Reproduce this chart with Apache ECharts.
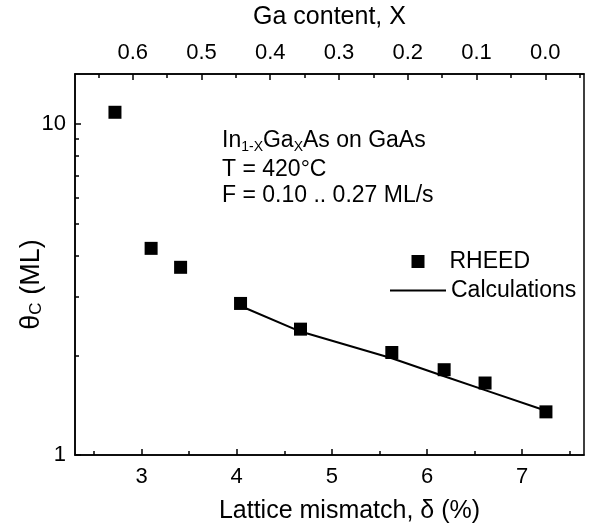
<!DOCTYPE html>
<html>
<head>
<meta charset="utf-8">
<script src="https://cdn.jsdelivr.net/npm/echarts@6/dist/echarts.min.js"></script>
<style>
  html, body { margin: 0; padding: 0; background: #fff; }
  #chart { width: 590px; height: 523px; }
</style>
</head>
<body>
<div id="chart"></div>
<script>
// RHEED critical thickness vs lattice mismatch
const mismatch = [2.72, 3.10, 3.41, 4.04, 4.67, 5.63, 6.18, 6.61, 7.25];
const thetaC   = [10.85, 4.21, 3.69, 2.87, 2.40, 2.04, 1.81, 1.65, 1.35];

// calculated critical thickness
const calcMismatch = [4.04, 4.67, 5.63, 6.18, 6.61, 7.25];
const calcTheta    = [2.82, 2.36, 1.96, 1.73, 1.57, 1.36];

// tick values
const mismatchTicks = [3, 4, 5, 6, 7];
const mismatchMinor = [2.5, 3.5, 4.5, 5.5, 6.5, 7.5];
const gaTicks = [0.6, 0.5, 0.4, 0.3, 0.2, 0.1, 0.0];
const gaMinor = [0.65, 0.55, 0.45, 0.35, 0.25, 0.15, 0.05, -0.05];
const thetaMinor = [2, 3, 4, 5, 6, 7, 8, 9];

const FONT = '"Liberation Sans", Arial, Helvetica, sans-serif';
const X_MIN = 2.3, X_MAX = 7.65;
const GA_MIN = -0.0563, GA_MAX = 0.6839;
const Y_MIN = 1, Y_MAX = 14.16;

const gridRect = { left: 75, right: 6, top: 74, bottom: 68, outerBoundsMode: 'none', containLabel: false };
const axisLine = { show: true, onZero: false, lineStyle: { color: '#000', width: 1.5 } };
const noLine = { show: false, onZero: false };
const majorTick = (vals) => ({ show: true, inside: true, length: 6, customValues: vals, lineStyle: { color: '#000', width: 1.5 } });
const minorTick = (vals) => ({ show: true, inside: true, length: 4, customValues: vals, lineStyle: { color: '#000', width: 1.5 } });
const tickLabel = { color: '#000', fontSize: 22, fontFamily: FONT };
const titleStyle = { fontSize: 25, color: '#000', fontFamily: FONT };

const chart = echarts.init(document.getElementById('chart'), null, { renderer: 'canvas' });

chart.setOption({
  animation: false,
  backgroundColor: '#fff',
  textStyle: { fontFamily: FONT, color: '#000' },
  grid: [
    Object.assign({ show: true, borderColor: '#000', borderWidth: 1.5, backgroundColor: 'transparent' }, gridRect),
    Object.assign({ show: false }, gridRect)
  ],
  xAxis: [
    {
      gridIndex: 0, type: 'value', position: 'bottom', min: X_MIN, max: X_MAX,
      axisLine, axisTick: majorTick(mismatchTicks),
      axisLabel: Object.assign({ customValues: mismatchTicks, margin: 11 }, tickLabel),
      splitLine: { show: false },
      name: 'Lattice mismatch, δ (%)', nameLocation: 'middle', nameGap: 44,
      nameTextStyle: Object.assign({ padding: [0, 0, 0, 40] }, titleStyle)
    },
    {
      gridIndex: 0, type: 'value', position: 'top', inverse: true, min: GA_MIN, max: GA_MAX,
      axisLine, axisTick: majorTick(gaTicks),
      axisLabel: Object.assign({ customValues: gaTicks, margin: 10, formatter: v => Math.abs(v).toFixed(1) }, tickLabel),
      splitLine: { show: false },
      name: 'Ga content, X', nameLocation: 'middle', nameGap: 44,
      nameTextStyle: titleStyle
    },
    {
      gridIndex: 1, type: 'value', position: 'bottom', min: X_MIN, max: X_MAX,
      axisLine: noLine, axisTick: minorTick(mismatchMinor),
      axisLabel: { show: false }, splitLine: { show: false }
    },
    {
      gridIndex: 1, type: 'value', position: 'top', inverse: true, min: GA_MIN, max: GA_MAX,
      axisLine: noLine, axisTick: minorTick(gaMinor),
      axisLabel: { show: false }, splitLine: { show: false }
    }
  ],
  yAxis: [
    {
      gridIndex: 0, type: 'log', logBase: 10, min: Y_MIN, max: Y_MAX,
      axisLine, axisTick: { show: true, inside: true, length: 6, lineStyle: { color: '#000', width: 1.5 } },
      axisLabel: Object.assign({ margin: 9, showMaxLabel: false,
        formatter: v => (Math.abs(v - 1) < 1e-6 ? '1' : Math.abs(v - 10) < 1e-6 ? '10' : '') }, tickLabel),
      splitLine: { show: false }, minorTick: { show: false },
      name: '{a|θ}{b|C}{a| (ML)}', nameLocation: 'middle', nameGap: 30, nameMoveOverlap: false,
      nameTextStyle: {
        color: '#000', fontFamily: FONT, padding: [0, 40, 0, 0],
        rich: {
          a: { fontSize: 27, fontFamily: FONT, color: '#000' },
          b: { fontSize: 17, fontFamily: FONT, color: '#000', verticalAlign: 'bottom', padding: [10, 0, 0, 0] }
        }
      }
    },
    {
      gridIndex: 1, type: 'value', position: 'left', min: 0, max: Math.log10(Y_MAX),
      axisLine: noLine, axisTick: minorTick(thetaMinor.map(Math.log10)),
      axisLabel: { show: false }, splitLine: { show: false }
    }
  ],
  legend: [
    {
      data: [{ name: 'RHEED', icon: 'rect' }],
      left: 411.5, top: 250, padding: 0, itemWidth: 13, itemHeight: 13, selectedMode: false,
      formatter: '{t|{name}}',
      textStyle: { color: '#000', fontFamily: FONT, rich: { t: { fontSize: 23, fontFamily: FONT, color: '#000', padding: [0, 0, 0, 20] } } }
    },
    {
      data: [{ name: 'Calculations', icon: 'path://M0,0H56V2H0Z' }],
      left: 390, top: 279, padding: 0, itemWidth: 56, itemHeight: 13, selectedMode: false,
      textStyle: { color: '#000', fontFamily: FONT, fontSize: 23 }
    }
  ],
  graphic: [
    {
      type: 'text', left: 222, top: 129,
      style: {
        text: '{t|In}{s|1-X}{t|Ga}{s|X}{t|As on GaAs}',
        rich: {
          t: { fontSize: 23, fontFamily: FONT, fill: '#000', lineHeight: 27 },
          s: { fontSize: 14, fontFamily: FONT, fill: '#000', verticalAlign: 'bottom', padding: [11, 0, 0, 0] }
        }
      }
    },
    { type: 'text', left: 222, top: 158, style: { text: 'T = 420°C', fontSize: 23, fontFamily: FONT, fill: '#000' } },
    { type: 'text', left: 222, top: 184, style: { text: 'F = 0.10 .. 0.27 ML/s', fontSize: 23, fontFamily: FONT, fill: '#000' } }
  ],
  series: [
    {
      name: 'RHEED', type: 'scatter', xAxisIndex: 0, yAxisIndex: 0,
      symbol: 'rect', symbolSize: 13,
      itemStyle: { color: '#000', opacity: 1 },
      data: mismatch.map((d, i) => [d, thetaC[i]]),
      z: 3
    },
    {
      name: 'Calculations', type: 'line', xAxisIndex: 0, yAxisIndex: 0,
      symbol: 'none', showSymbol: false,
      lineStyle: { color: '#000', width: 2 },
      itemStyle: { color: '#000' },
      data: calcMismatch.map((d, i) => [d, calcTheta[i]]),
      z: 2
    }
  ]
});
</script>
</body>
</html>
